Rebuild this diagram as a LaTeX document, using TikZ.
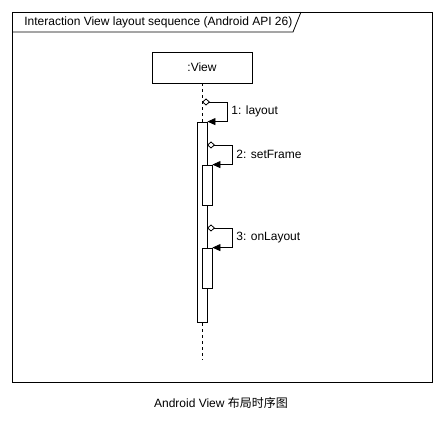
\documentclass[tikz,border=0pt]{standalone}
\usepackage{fontspec}
\setmainfont{Liberation Sans}
\newfontfamily\cjk{Noto Sans CJK SC}
\usetikzlibrary{arrows.meta,positioning}

\begin{document}
\begin{tikzpicture}[x=1pt,y=-1pt,line width=0.8pt,font=\fontsize{12}{14}\selectfont,
	actbar/.style={draw,fill=white,minimum width=10pt,inner sep=0pt},
	selfmsg/.style={{Diamond[open,length=8pt,width=7pt]}-{Triangle[length=8pt,width=7pt]}},
	msglabel/.style={pos=0.25,anchor=west,inner sep=4pt}]
					\useasboundingbox (0,0) rectangle (445,425);
					% Define the frame
					\draw (12,12) rectangle (432,382);
					\draw (12,32) -- (293,32) -- (301,12);
					\node[anchor=west,inner sep=2pt] (title) at (22,22) {Interaction View layout sequence (Android API 26)};
					% Lifeline
					\node[draw,minimum width=100pt,minimum height=31pt] (view) at (202,67.5) {:View};
					\coordinate (lifeend) at (202,360);
					\draw[dash pattern=on 3pt off 3pt] (view.south) -- (lifeend);
					% Activation bars
					\node[actbar,minimum height=200pt] (act1) at (202,222) {};
					\node[actbar,minimum height=40pt] (act2) at (207,185) {};
					\node[actbar,minimum height=40pt] (act3) at (207,268) {};
					% Self messages
					\coordinate (m1) at (202,102);
					\coordinate (m2) at (207,145);
					\coordinate (m3) at (207,228);
					\draw[selfmsg] (m1) -- ++(25,0) |- node[msglabel] {1: layout} (act1.north east);
					\draw[selfmsg] (m2) -- ++(25,0) |- node[msglabel] {2: setFrame} (act2.north east);
					\draw[selfmsg] (m3) -- ++(25,0) |- node[msglabel] {3: onLayout} (act3.north east);
					% Caption
					\node (caption) at (221,403) {Android View {\cjk 布局时序图}};
				\end{tikzpicture}
\end{document}
